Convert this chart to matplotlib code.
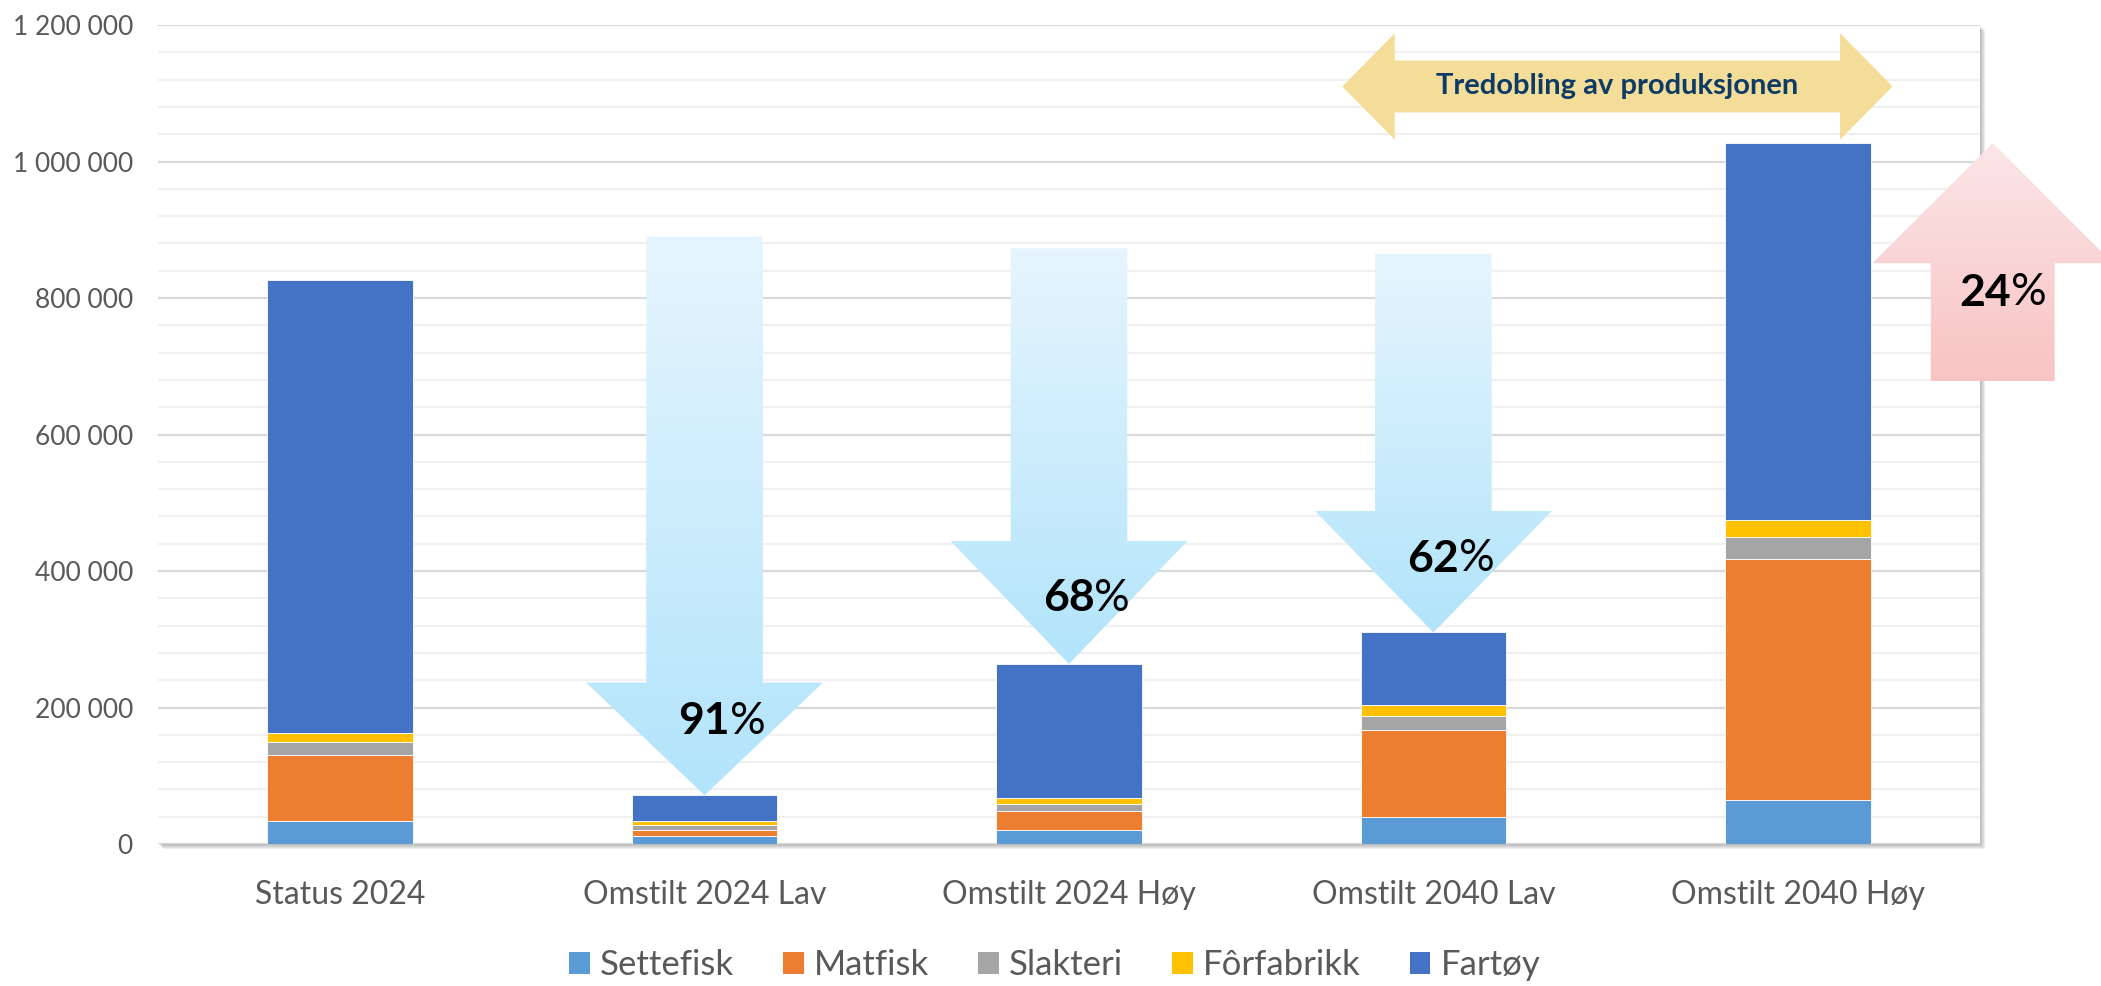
import numpy as np
import matplotlib
matplotlib.use("Agg")
import matplotlib.pyplot as plt
from matplotlib.patches import Polygon, Rectangle, Patch
from matplotlib.colors import LinearSegmentedColormap
from matplotlib.ticker import MultipleLocator, FuncFormatter

plt.rcParams['font.family'] = ['Lato', 'DejaVu Sans']

# data
categories = ["Status 2024", "Omstilt 2024 Lav", "Omstilt 2024 Høy", "Omstilt 2040 Lav", "Omstilt 2040 Høy"]
series = ["Settefisk", "Matfisk", "Slakteri", "Fôrfabrikk", "Fartøy"]
colors = ["#5b9bd5", "#ed7d31", "#a5a5a5", "#ffc000", "#4472c4"]
settefisk = [34000, 12000, 21000, 40000, 65000]
matfisk = [97000, 8500, 27000, 127000, 352000]
slakteri = [18000, 7000, 11000, 21000, 33000]
forfabrikk = [14000, 6000, 8000, 15000, 25000]
fartoy = [663000, 38000, 197000, 107000, 552000]

# annotations: change vs Status 2024
down_idx = [1, 2, 3]
down_labels = ["91", "68", "62"]
down_top = [890000, 873000, 865000]
down_head = [165000, 180000, 178000]
down_label_y = [180000, 360000, 418000]
up_label = "24"
up_bottom = 678000
up_label_y = 808000
span_label = "Tredobling av produksjonen"
span_x = [2.75, 4.26]
span_y = 1110000

fig = plt.figure(figsize=(21.01, 9.86), dpi=100)
l, b, r, t = 0.0752, 0.144, 0.9424, 0.9746
ax = fig.add_axes([l, b, r - l, t - b])

x = np.arange(len(categories))
stack = [settefisk, matfisk, slakteri, forfabrikk, fartoy]
bottom = np.zeros(len(categories))
for name, vals, c in zip(series, stack, colors):
    ax.bar(x, vals, width=0.4, bottom=bottom, color=c, edgecolor="white", linewidth=0.6, zorder=3)
    bottom += np.array(vals)
totals = bottom

ax.set_xlim(-0.5, 4.5)
ax.set_ylim(0, 1200000)
ax.yaxis.set_major_locator(MultipleLocator(200000))
ax.yaxis.set_minor_locator(MultipleLocator(40000))
ax.yaxis.set_major_formatter(FuncFormatter(lambda v, p: f"{v:,.0f}".replace(",", " ")))
ax.grid(which="major", axis="y", color="#d9d9d9", lw=1.6, zorder=0)
ax.grid(which="minor", axis="y", color="#f0f0f0", lw=1.6, zorder=0)
ax.set_axisbelow(True)
for s in ax.spines.values():
    s.set_visible(False)
ax.tick_params(axis="y", which="both", length=0, labelsize=19, labelcolor="#595959", pad=18)
ax.tick_params(axis="x", length=0, labelsize=23, labelcolor="#595959", pad=26)
ax.set_xticks(x)
ax.set_xticklabels(categories)

# soft shadow under the plot area
for k in range(1, 6):
    fig.patches.append(Rectangle((l + k / 2101, b - k / 986), r - l, t - b, transform=fig.transFigure,
                                 facecolor="#7f7f7f", edgecolor="none", alpha=0.13, zorder=-1))


def grad_poly(verts, c_top, c_bot, outside=False):
    poly = Polygon(verts, closed=True, facecolor="none", edgecolor="none", transform=ax.transData)
    ax.add_patch(poly)
    xs = [v[0] for v in verts]
    ys = [v[1] for v in verts]
    g = np.linspace(0, 1, 256).reshape(-1, 1)
    cmap = LinearSegmentedColormap.from_list("g", [c_bot, c_top])
    im = ax.imshow(g, extent=(min(xs), max(xs), min(ys), max(ys)), origin="lower",
                   cmap=cmap, aspect="auto", zorder=4, interpolation="bilinear")
    im.set_clip_path(poly)
    if outside:
        im.set_clip_box(fig.bbox)


# down arrows
sw, hw = 0.16, 0.325
for i, lab, top, hl, ly in zip(down_idx, down_labels, down_top, down_head, down_label_y):
    tip = totals[i]
    verts = [(i - sw, top), (i + sw, top), (i + sw, tip + hl), (i + hw, tip + hl),
             (i, tip), (i - hw, tip + hl), (i - sw, tip + hl)]
    grad_poly(verts, "#e6f5fd", "#b2e4fb")
    ax.text(i + 0.07, ly, lab, ha="right", va="center", fontsize=32, fontweight="bold", color="black", zorder=6)
    ax.text(i + 0.07, ly, "%", ha="left", va="center", fontsize=32, color="black", zorder=6)

# up arrow
ux = 4.535
tip = totals[4]
verts = [(ux - 0.17, up_bottom), (ux + 0.17, up_bottom), (ux + 0.17, tip - 176000), (ux + 0.33, tip - 176000),
         (ux, tip), (ux - 0.33, tip - 176000), (ux - 0.17, tip - 176000)]
grad_poly(verts, "#fbe6e7", "#f8c3c3", outside=True)
ax.text(ux + 0.05, up_label_y, up_label, ha="right", va="center", fontsize=32, fontweight="bold", color="black", zorder=6)
ax.text(ux + 0.05, up_label_y, "%", ha="left", va="center", fontsize=32, color="black", zorder=6)

# double arrow
x0, x1 = span_x
hlx = 0.144
verts = [(x0, span_y), (x0 + hlx, span_y + 78000), (x0 + hlx, span_y + 38000), (x1 - hlx, span_y + 38000),
         (x1 - hlx, span_y + 78000), (x1, span_y), (x1 - hlx, span_y - 78000), (x1 - hlx, span_y - 38000),
         (x0 + hlx, span_y - 38000), (x0 + hlx, span_y - 78000)]
ax.add_patch(Polygon(verts, closed=True, facecolor="#f3dd98", edgecolor="none", zorder=4))
ax.text((x0 + x1) / 2, span_y, span_label, ha="center", va="center", fontsize=21, fontweight="bold",
        color="#0d3b66", zorder=6)

ax.set_xlim(-0.5, 4.5)
ax.set_ylim(0, 1200000)

handles = [Patch(facecolor=c, edgecolor="none") for c in colors]
fig.legend(handles, series, loc="center", bbox_to_anchor=(0.502, 0.021), ncol=5, frameon=False,
           fontsize=25, handlelength=0.6, handleheight=0.6, handletextpad=0.3, columnspacing=1.4,
           labelcolor="#595959")

fig.savefig("out.png", dpi=100)
